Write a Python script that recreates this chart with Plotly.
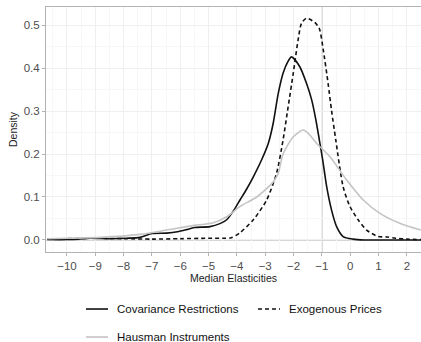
import plotly.graph_objects as go

# Covariance Restrictions (solid black)
cov_x = [-10.7, -10.0, -9.6, -9.19, -8.48, -7.9, -7.42, -7.0, -6.48, -6.1, -5.78, -5.5, -4.95, -4.6, -4.36,
         -4.1, -3.89, -3.66, -3.42, -3.13, -2.89, -2.72, -2.54, -2.37, -2.2, -2.07, -1.78, -1.54, -1.36,
         -1.21, -1.09, -0.97, -0.83, -0.66, -0.48, -0.25, 0.1, 0.5, 1.0, 1.5, 2.0, 2.5]
cov_y = [0.001, 0.001, 0.002, 0.004, 0.003, 0.004, 0.006, 0.015, 0.016, 0.019, 0.024, 0.029, 0.031, 0.038, 0.047,
         0.070, 0.093, 0.118, 0.147, 0.186, 0.225, 0.271, 0.341, 0.388, 0.415, 0.426, 0.403, 0.364, 0.326,
         0.279, 0.233, 0.186, 0.124, 0.070, 0.031, 0.008, 0.002, 0.0, 0.0, 0.0, 0.0, 0.0]

# Exogenous Prices (dashed)
exo_x = [-10.7, -10.0, -9.0, -8.0, -7.0, -6.0, -5.0, -4.5, -4.2, -3.89, -3.42, -2.95, -2.6, -2.37, -2.19,
         -2.01, -1.84, -1.72, -1.54, -1.25, -1.09, -0.95, -0.78, -0.66, -0.51, -0.25, -0.01, 0.28,
         0.58, 0.99, 1.3, 1.6, 2.0, 2.5]
exo_y = [0.003, 0.003, 0.004, 0.003, 0.002, 0.003, 0.004, 0.004, 0.005, 0.017, 0.047, 0.093, 0.155, 0.233, 0.310,
         0.388, 0.465, 0.504, 0.516, 0.506, 0.492, 0.442, 0.364, 0.302, 0.233, 0.124, 0.078, 0.047,
         0.023, 0.008, 0.007, 0.004, 0.002, 0.001]

# Hausman Instruments (light grey)
hau_x = [-10.7, -10.0, -8.8, -7.42, -6.48, -5.78, -5.5, -4.83, -4.36, -3.89, -3.3, -2.72, -2.54, -2.37,
         -2.01, -1.66, -1.48, -1.19, -0.72, -0.13, 0.46, 1.05, 1.75, 2.5]
hau_y = [0.003, 0.004, 0.006, 0.013, 0.023, 0.031, 0.034, 0.040, 0.054, 0.078, 0.100, 0.135, 0.155, 0.200,
         0.240, 0.256, 0.248, 0.225, 0.194, 0.14, 0.093, 0.062, 0.039, 0.023]

series_names = ["Covariance Restrictions", "Exogenous Prices", "Hausman Instruments"]
x_ticks = [-10, -9, -8, -7, -6, -5, -4, -3, -2, -1, 0, 1, 2]
y_ticks = [0.0, 0.1, 0.2, 0.3, 0.4, 0.5]
ref_x = -1
ref_y = 0

FONT = "Liberation Sans, Arial, sans-serif"
BLACK = "#111111"
GREY = "#c4c4c4"
styles = [dict(color=BLACK, width=1.6), dict(color=BLACK, width=1.6, dash="4px,3px"), dict(color=GREY, width=1.6)]

fig = go.Figure()
for xs, ys, nm, st in zip([cov_x, exo_x, hau_x], [cov_y, exo_y, hau_y], series_names, styles):
    fig.add_trace(go.Scatter(x=xs, y=ys, mode="lines", name=nm, showlegend=False,
                             line=dict(shape="spline", smoothing=0.7, **st)))

fig.add_shape(type="line", xref="x", yref="paper", x0=ref_x, x1=ref_x, y0=0, y1=1,
              line=dict(color="#a0a0a0", width=1), layer="below")
fig.add_shape(type="line", xref="paper", yref="y", x0=0, x1=1, y0=ref_y, y1=ref_y,
              line=dict(color="#a8a8a8", width=1), layer="below")

# manual legend (paper coordinates below the panel)
leg_pos = [(0.1067, -0.2327), (0.5653, -0.2327), (0.1067, -0.347)]
for (lx, ly), nm, st in zip(leg_pos, series_names, styles):
    fig.add_shape(type="line", xref="paper", yref="paper", x0=lx, x1=lx + 0.0587, y0=ly, y1=ly,
                  line=st)
    fig.add_annotation(xref="paper", yref="paper", x=lx + 0.0773, y=ly, xanchor="left", yanchor="middle",
                       text=nm, showarrow=False, font=dict(size=11.5, color="#111111"))

fig.update_layout(
    width=421, height=342,
    margin=dict(l=46, r=0, t=7, b=90),
    paper_bgcolor="white", plot_bgcolor="white",
    font=dict(family=FONT, color="#000000"),
    showlegend=False,
)
fig.update_xaxes(range=[-10.74, 2.5], tickvals=x_ticks, ticks="outside", ticklen=3, tickcolor="#b3b3b3",
                 tickfont=dict(size=11.5, color="#4d4d4d"),
                 title=dict(text="Median Elasticities", font=dict(size=10.5, color="#222222"), standoff=0),
                 showgrid=True, gridcolor="#efefef", gridwidth=0.8,
                 minor=dict(dtick=0.5, showgrid=True, gridcolor="#f7f7f7", gridwidth=0.5),
                 zeroline=False, showline=True, linecolor="#b3b3b3", mirror=True)
fig.update_yaxes(range=[-0.028, 0.542], tickvals=y_ticks, tickformat=".1f", ticks="outside", ticklen=3,
                 tickcolor="#b3b3b3", tickfont=dict(size=11.5, color="#4d4d4d"),
                 title=dict(text="Density", font=dict(size=10.5, color="#222222"), standoff=4),
                 showgrid=True, gridcolor="#efefef", gridwidth=0.8,
                 minor=dict(dtick=0.05, showgrid=True, gridcolor="#f7f7f7", gridwidth=0.5),
                 zeroline=False, showline=True, linecolor="#b3b3b3", mirror=False)

fig.write_html("out.html", config={"displayModeBar": False},
               post_script="document.body.style.margin='0';")
